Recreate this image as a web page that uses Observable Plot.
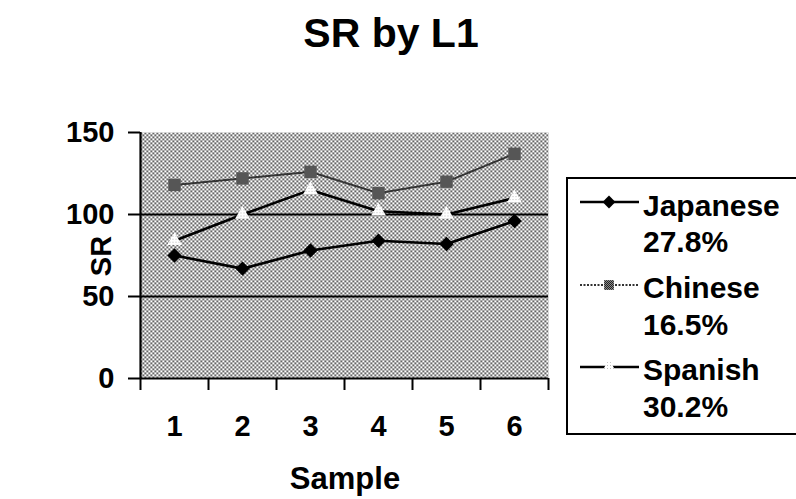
<!DOCTYPE html>
<html>
<head>
<meta charset="utf-8">
<script src="https://cdn.jsdelivr.net/npm/d3@7"></script>
<script src="https://cdn.jsdelivr.net/npm/@observablehq/plot@0.6"></script>
<style>
  html, body { margin: 0; padding: 0; background: #fff; }
  svg { display: block; }
</style>
</head>
<body>
<div id="chart"></div>
<script>
// SR by first language (L1), six samples
const samples = [1, 2, 3, 4, 5, 6];
const japanese = [75, 67, 78, 84, 82, 96];
const chinese = [118, 122, 126, 113, 120, 137];
const spanish = [84, 100, 115, 102, 100, 110];
const seriesNames = ["Japanese", "Chinese", "Spanish"];
const seriesShares = ["27.8%", "16.5%", "30.2%"];
const yTicks = [0, 50, 100, 150];
const gridValues = [50, 100];

const W = 796, H = 499;
const font = "'Liberation Sans', Arial, Helvetica, sans-serif";

const rows = (vals) => samples.map((s, i) => ({sample: s, value: vals[i]}));
const jp = rows(japanese), cn = rows(chinese), es = rows(spanish);
// category boundaries for the tick marks between samples
const bounds = [samples[0] - 0.5, ...samples.map(s => s + 0.5)];

const svg = Plot.plot({
  width: W,
  height: H,
  marginLeft: 140,
  marginRight: 248,
  marginTop: 132,
  marginBottom: 121,
  style: {fontFamily: font, fontWeight: "bold", color: "#000", background: "#fff", overflow: "visible"},
  x: {domain: [bounds[0], bounds[bounds.length - 1]], axis: null},
  y: {domain: [yTicks[0], yTicks[yTicks.length - 1]], axis: null},
  marks: [
    Plot.frame({fill: "url(#halftone)", stroke: "none"}),
    Plot.ruleY(gridValues, {stroke: "#000", strokeWidth: 2}),
    Plot.ruleY([yTicks[0]], {stroke: "#000", strokeWidth: 2.2}),
    Plot.ruleX([bounds[0]], {stroke: "#000", strokeWidth: 2.2}),
    Plot.axisY({ticks: yTicks, tickSize: 12, tickPadding: 14, strokeWidth: 2, fontSize: 29, fontWeight: "bold", tickFormat: "d", label: null}),
    Plot.axisX({ticks: bounds, tickSize: 12, strokeWidth: 2, tickFormat: () => "", label: null}),
    Plot.axisX({ticks: samples, tickSize: 0, tickPadding: 37, fontSize: 29, fontWeight: "bold", tickFormat: "d", label: null}),
    // Chinese
    Plot.line(cn, {x: "sample", y: "value", stroke: "#333", strokeWidth: 2, strokeDasharray: "2,1.5"}),
    Plot.dot(cn, {x: "sample", y: "value", symbol: "square", r: 7, fill: "url(#sqfill)", stroke: "none"}),
    // Spanish
    Plot.line(es, {x: "sample", y: "value", stroke: "#000", strokeWidth: 2.6}),
    Plot.dot(es, {x: "sample", y: "value", symbol: "triangle", r: 5.5, fill: "url(#trifill)", stroke: "none"}),
    // Japanese
    Plot.line(jp, {x: "sample", y: "value", stroke: "#000", strokeWidth: 2.6}),
    Plot.dot(jp, {x: "sample", y: "value", symbol: "diamond2", r: 6.5, fill: "#000", stroke: "none"})
  ]
});

const root = d3.select(svg);
const defs = root.insert("defs", ":first-child");

// halftone plot background
const p1 = defs.append("pattern").attr("id", "halftone").attr("patternUnits", "userSpaceOnUse")
  .attr("width", 4).attr("height", 4);
p1.append("rect").attr("width", 4).attr("height", 4).attr("fill", "#fff");
p1.append("rect").attr("x", 0).attr("y", 0).attr("width", 1.6).attr("height", 1.6).attr("fill", "#111");
p1.append("rect").attr("x", 2).attr("y", 2).attr("width", 1.6).attr("height", 1.6).attr("fill", "#111");

// dark checker for the square markers
const p2 = defs.append("pattern").attr("id", "sqfill").attr("patternUnits", "userSpaceOnUse")
  .attr("width", 2).attr("height", 2);
p2.append("rect").attr("width", 2).attr("height", 2).attr("fill", "#8a8a8a");
p2.append("rect").attr("width", 1).attr("height", 1).attr("fill", "#222");
p2.append("rect").attr("x", 1).attr("y", 1).attr("width", 1).attr("height", 1).attr("fill", "#222");

// light speckle for the triangle markers
const p3 = defs.append("pattern").attr("id", "trifill").attr("patternUnits", "userSpaceOnUse")
  .attr("width", 3).attr("height", 3);
p3.append("rect").attr("width", 3).attr("height", 3).attr("fill", "#fff");
p3.append("rect").attr("x", 1).attr("y", 1).attr("width", 1).attr("height", 1).attr("fill", "#bbb");

// title and axis titles
const txt = (sel) => sel.attr("font-family", font).attr("font-weight", "bold").attr("fill", "#000");
txt(root.append("text")).attr("x", 391).attr("y", 47).attr("text-anchor", "middle")
  .attr("font-size", 41).text("SR by L1");
txt(root.append("text")).attr("transform", "translate(111,256) rotate(-90)").attr("text-anchor", "middle")
  .attr("font-size", 29).text("SR");
txt(root.append("text")).attr("x", 345).attr("y", 489).attr("text-anchor", "middle")
  .attr("font-size", 31).text("Sample");

// legend
const lg = root.append("g");
lg.append("rect").attr("x", 567).attr("y", 178).attr("width", 260).attr("height", 256)
  .attr("fill", "#fff").attr("stroke", "#000").attr("stroke-width", 2);
const sym = {
  Japanese: {line: {stroke: "#000", w: 2.4, dash: null}, shape: d3.symbolDiamond2, size: Math.PI * 5.8 * 5.8, fill: "#000"},
  Chinese: {line: {stroke: "#333", w: 2, dash: "2,1.5"}, shape: d3.symbolSquare, size: Math.PI * 5.5 * 5.5, fill: "url(#sqfill)"},
  Spanish: {line: {stroke: "#000", w: 2.4, dash: null}, shape: d3.symbolTriangle, size: Math.PI * 5 * 5, fill: "url(#trifill)"}
};
const lineY = [202, 285, 367];
const nameY = [216, 298, 380];
const shareY = [252, 335, 417];
seriesNames.forEach((name, i) => {
  const s = sym[name];
  lg.append("line").attr("x1", 580).attr("x2", 639).attr("y1", lineY[i]).attr("y2", lineY[i])
    .attr("stroke", s.line.stroke).attr("stroke-width", s.line.w).attr("stroke-dasharray", s.line.dash);
  lg.append("path").attr("d", d3.symbol(s.shape, s.size)()).attr("transform", `translate(609,${lineY[i]})`)
    .attr("fill", s.fill);
  txt(lg.append("text")).attr("x", 643).attr("y", nameY[i]).attr("text-anchor", "start")
    .attr("font-size", 30).text(name);
  txt(lg.append("text")).attr("x", 643).attr("y", shareY[i]).attr("text-anchor", "start")
    .attr("font-size", 30).text(seriesShares[i]);
});

document.getElementById("chart").appendChild(svg);
</script>
</body>
</html>
